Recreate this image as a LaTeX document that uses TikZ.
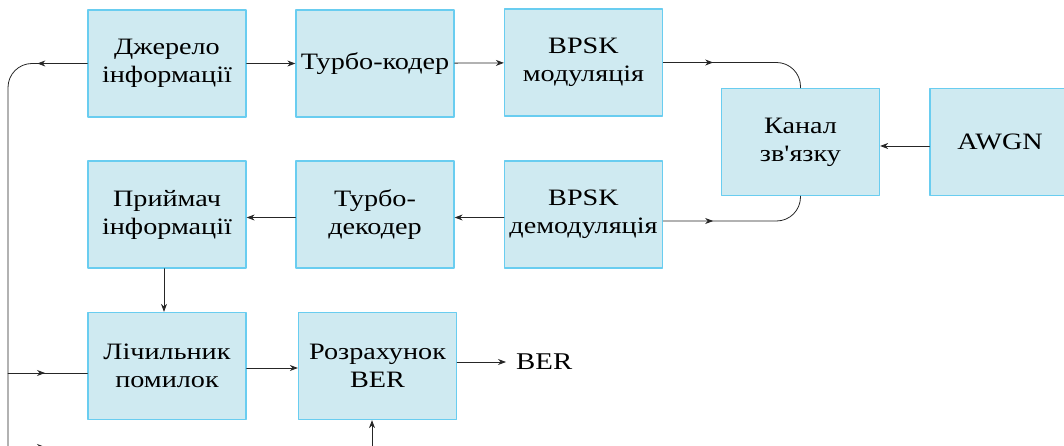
\documentclass[tikz,border=0pt]{standalone}
\usepackage{fontspec}
\setmainfont{Liberation Serif}[FakeStretch=1.2,Ligatures=TeXOff]
\usetikzlibrary{arrows.meta,decorations.markings}
\definecolor{blokfill}{RGB}{207,234,241}
\definecolor{blokline}{RGB}{105,205,240}
\tikzset{
	blok/.style={draw=blokline,fill=blokfill,line width=1.3pt,minimum width=158pt,minimum height=107pt,
		align=center,inner sep=0pt,font=\fontsize{23.5}{28}\selectfont},
	midarrow/.style={postaction={decorate},
		decoration={markings,mark=at position #1 with {\arrow{Stealth[length=8pt,width=6pt]}}}}
}
\begin{document}
\begin{tikzpicture}[x=1pt,y=-1pt,line join=round,line cap=round,>={Stealth[length=8pt,width=6pt]}]
	\useasboundingbox (0,0) rectangle (1064,446);
	\foreach \n/\x/\y/\t in {dzh/167/63.5/{Джерело\\інформації},koder/375/63.5/{Турбо-кодер},
		mod/583.5/62.5/{BPSK\\модуляція},kanal/800.5/142/{Канал\\зв'язку},
		pr/167/214.5/{Приймач\\інформації},dekoder/375/214.5/{Турбо-\\декодер},
		demod/583.5/214.5/{BPSK\\демодуляція},lich/167/366/{Лічильник\\помилок},
		rozr/377.5/366/{Розрахунок\\BER}}
	\node[blok] (\n) at (\x,\y) {\t};
	\node[blok,minimum width=140pt] (awgn) at (1000,142) {AWGN};
	\node[anchor=west,inner sep=0pt,font=\fontsize{24}{28}\selectfont] (ber) at (516,362) {BER};
	\path
	(8,470) coordinate (niz)
	(8,373) coordinate (lichl)
	(8,447) coordinate (nizl)
	(88,447) coordinate (nizp)
	(372,470) coordinate (rozrin)
	;
	\begin{scope}[draw=black!85,line width=0.8pt]
		\draw[->] (dzh) -- (koder);
		\draw[->] (koder) -- (mod);
		\draw[midarrow=50pt,rounded corners=24pt] (mod.east) -| (kanal.north);
		\draw[midarrow=50pt,rounded corners=24pt] ([yshift=-6.5pt]demod.east) -| (kanal.south);
		\draw[->] ([yshift=-4pt]awgn.west) -- ([yshift=-4pt]kanal.east);
		\draw[->] ([yshift=-3pt]demod.west) -- ([yshift=-3pt]dekoder.east);
		\draw[->] ([yshift=-3pt]dekoder.west) -- ([yshift=-3pt]pr.east);
		\draw[->] ([xshift=-3pt]pr.south) -- ([xshift=-3pt]lich.north);
		\draw[->] ([yshift=-2pt]lich.east) -- ([yshift=-2pt]rozr.west);
		\draw[->] (rozr.east |- ber.west) -- ([xshift=-10pt]ber.west);
		\draw[->] (rozrin) -- (rozrin |- rozr.south);
		\draw[midarrow=50pt,rounded corners=24pt] (dzh.west) -- (8,63.5) -- (niz);
		\draw[midarrow=37pt] (lichl) -- (lichl -| lich.west);
		\draw[midarrow=37pt] (nizl) -- (nizp);
	\end{scope}
\end{tikzpicture}
\end{document}
